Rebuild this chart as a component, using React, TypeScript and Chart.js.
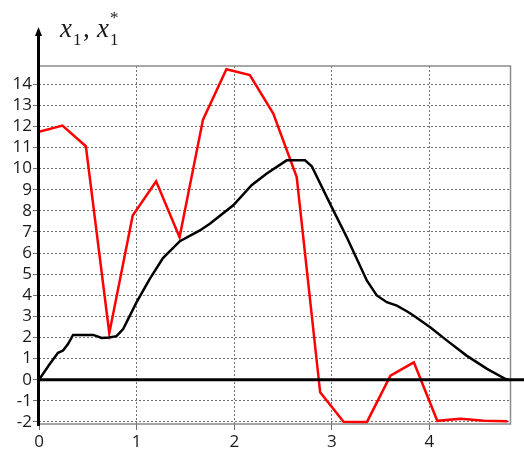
import React, { useEffect, useRef } from 'react';
import { Chart, registerables } from 'chart.js';

Chart.register(...registerables);

// x1* (red) — sampled every 0.24
const redT = [0, 0.24, 0.48, 0.72, 0.96, 1.2, 1.44, 1.68, 1.92, 2.16, 2.4, 2.64, 2.88, 3.12, 3.36, 3.6, 3.84, 4.08, 4.32, 4.56, 4.8];
const redY = [11.74, 12.04, 11.06, 2.2, 7.78, 9.4, 6.75, 12.32, 14.71, 14.43, 12.61, 9.6, -0.6, -1.99, -2.0, 0.19, 0.82, -1.95, -1.85, -1.95, -1.97];

// x1 (black)
const blackT = [0, 0.11, 0.195, 0.246, 0.297, 0.349, 0.554, 0.6, 0.64, 0.72, 0.794, 0.862, 1.0, 1.135, 1.27, 1.443, 1.648, 1.75, 1.99, 2.178, 2.33, 2.537, 2.725, 2.794, 3.015, 3.153, 3.358, 3.46, 3.563, 3.666, 3.768, 3.836, 4.007, 4.18, 4.38, 4.59, 4.78, 4.81];
const blackY = [0, 0.74, 1.27, 1.38, 1.69, 2.12, 2.12, 2.05, 1.98, 2.0, 2.06, 2.4, 3.67, 4.78, 5.76, 6.56, 7.07, 7.39, 8.26, 9.21, 9.76, 10.39, 10.39, 10.11, 8.02, 6.75, 4.7, 3.99, 3.67, 3.51, 3.24, 3.04, 2.48, 1.85, 1.14, 0.51, 0.03, 0];

const xMin = 0;
const xMax = 4.83;
const yMin = -2.1;
const yMax = 14.86;

const decoPlugin = {
  id: 'deco',
  beforeDatasetsDraw(chart: any) {
    const { ctx, chartArea: a } = chart;
    ctx.save();
    ctx.strokeStyle = '#8a8a8a';
    ctx.lineWidth = 1.5;
    ctx.setLineDash([]);
    ctx.strokeRect(a.left, a.top, a.right - a.left, a.bottom - a.top);
    ctx.restore();
  },
  afterDraw(chart: any) {
    const { ctx, chartArea: a, scales } = chart;
    const y0 = scales.y.getPixelForValue(0);
    const ax = a.left - 0.5;
    ctx.save();
    ctx.setLineDash([]);
    ctx.strokeStyle = '#000';
    ctx.lineWidth = 3;
    ctx.beginPath();
    ctx.moveTo(ax, y0);
    ctx.lineTo(chart.width, y0);
    ctx.stroke();
    ctx.beginPath();
    ctx.moveTo(ax, a.bottom + 2);
    ctx.lineTo(ax, 33);
    ctx.stroke();
    ctx.fillStyle = '#000';
    ctx.beginPath();
    ctx.moveTo(ax, 27);
    ctx.lineTo(ax - 3.5, 36);
    ctx.lineTo(ax + 3.5, 36);
    ctx.closePath();
    ctx.fill();

    // title x1, x1*
    ctx.fillStyle = '#1a1a1a';
    ctx.textBaseline = 'alphabetic';
    ctx.textAlign = 'left';
    ctx.font = 'italic 27px "Liberation Serif"';
    ctx.fillText('x', 60, 37);
    ctx.font = '17px "Liberation Serif"';
    ctx.fillText('1', 73, 45);
    ctx.font = '27px "Liberation Serif"';
    ctx.fillText(',', 83, 37);
    ctx.font = 'italic 27px "Liberation Serif"';
    ctx.fillText('x', 97, 37);
    ctx.font = '17px "Liberation Serif"';
    ctx.fillText('1', 110, 45);
    ctx.fillText('*', 110, 23);
    ctx.restore();
  },
};

export default function App() {
  const ref = useRef<HTMLCanvasElement>(null);
  useEffect(() => {
    if (!ref.current) return;
    const chart = new Chart(ref.current, {
      type: 'line',
      data: {
        datasets: [
          {
            label: 'x1',
            data: blackT.map((t, i) => ({ x: t, y: blackY[i] })),
            borderColor: '#000000',
            borderWidth: 2.5,
            pointRadius: 0,
            tension: 0,
          },
          {
            label: 'x1*',
            data: redT.map((t, i) => ({ x: t, y: redY[i] })),
            borderColor: '#ff0000',
            borderWidth: 2.5,
            pointRadius: 0,
            tension: 0,
          },
        ],
      },
      plugins: [decoPlugin],
      options: {
        responsive: false,
        animation: false,
        devicePixelRatio: 1,
        layout: { padding: { top: 66, right: 13.5, left: 0, bottom: 0 } },
        plugins: { legend: { display: false }, tooltip: { enabled: false } },
        scales: {
          x: {
            type: 'linear',
            min: xMin,
            max: xMax,
            afterFit: (s: any) => { s.height = 27; },
            ticks: {
              stepSize: 1,
              includeBounds: false,
              autoSkip: false,
              padding: 2,
              color: '#1a1a1a',
              font: { family: '"Open Sans"', size: 17 },
              maxRotation: 0,
            },
            grid: { color: '#707070', lineWidth: 1, tickLength: 6 },
            border: { display: false, dash: [2, 2] },
          },
          y: {
            type: 'linear',
            min: yMin,
            max: yMax,
            afterFit: (s: any) => { s.width = 39; },
            ticks: {
              stepSize: 1,
              includeBounds: false,
              autoSkip: false,
              padding: 1,
              color: '#1a1a1a',
              font: { family: '"Open Sans"', size: 17 },
            },
            grid: { color: '#707070', lineWidth: 1, tickLength: 6 },
            border: { display: false, dash: [2, 2] },
          },
        },
      },
    });
    return () => chart.destroy();
  }, []);
  return (
    <div style={{ position: 'absolute', left: 0, top: 0, width: 524, height: 451, background: '#fff' }}>
      <canvas ref={ref} width={524} height={451} />
    </div>
  );
}
